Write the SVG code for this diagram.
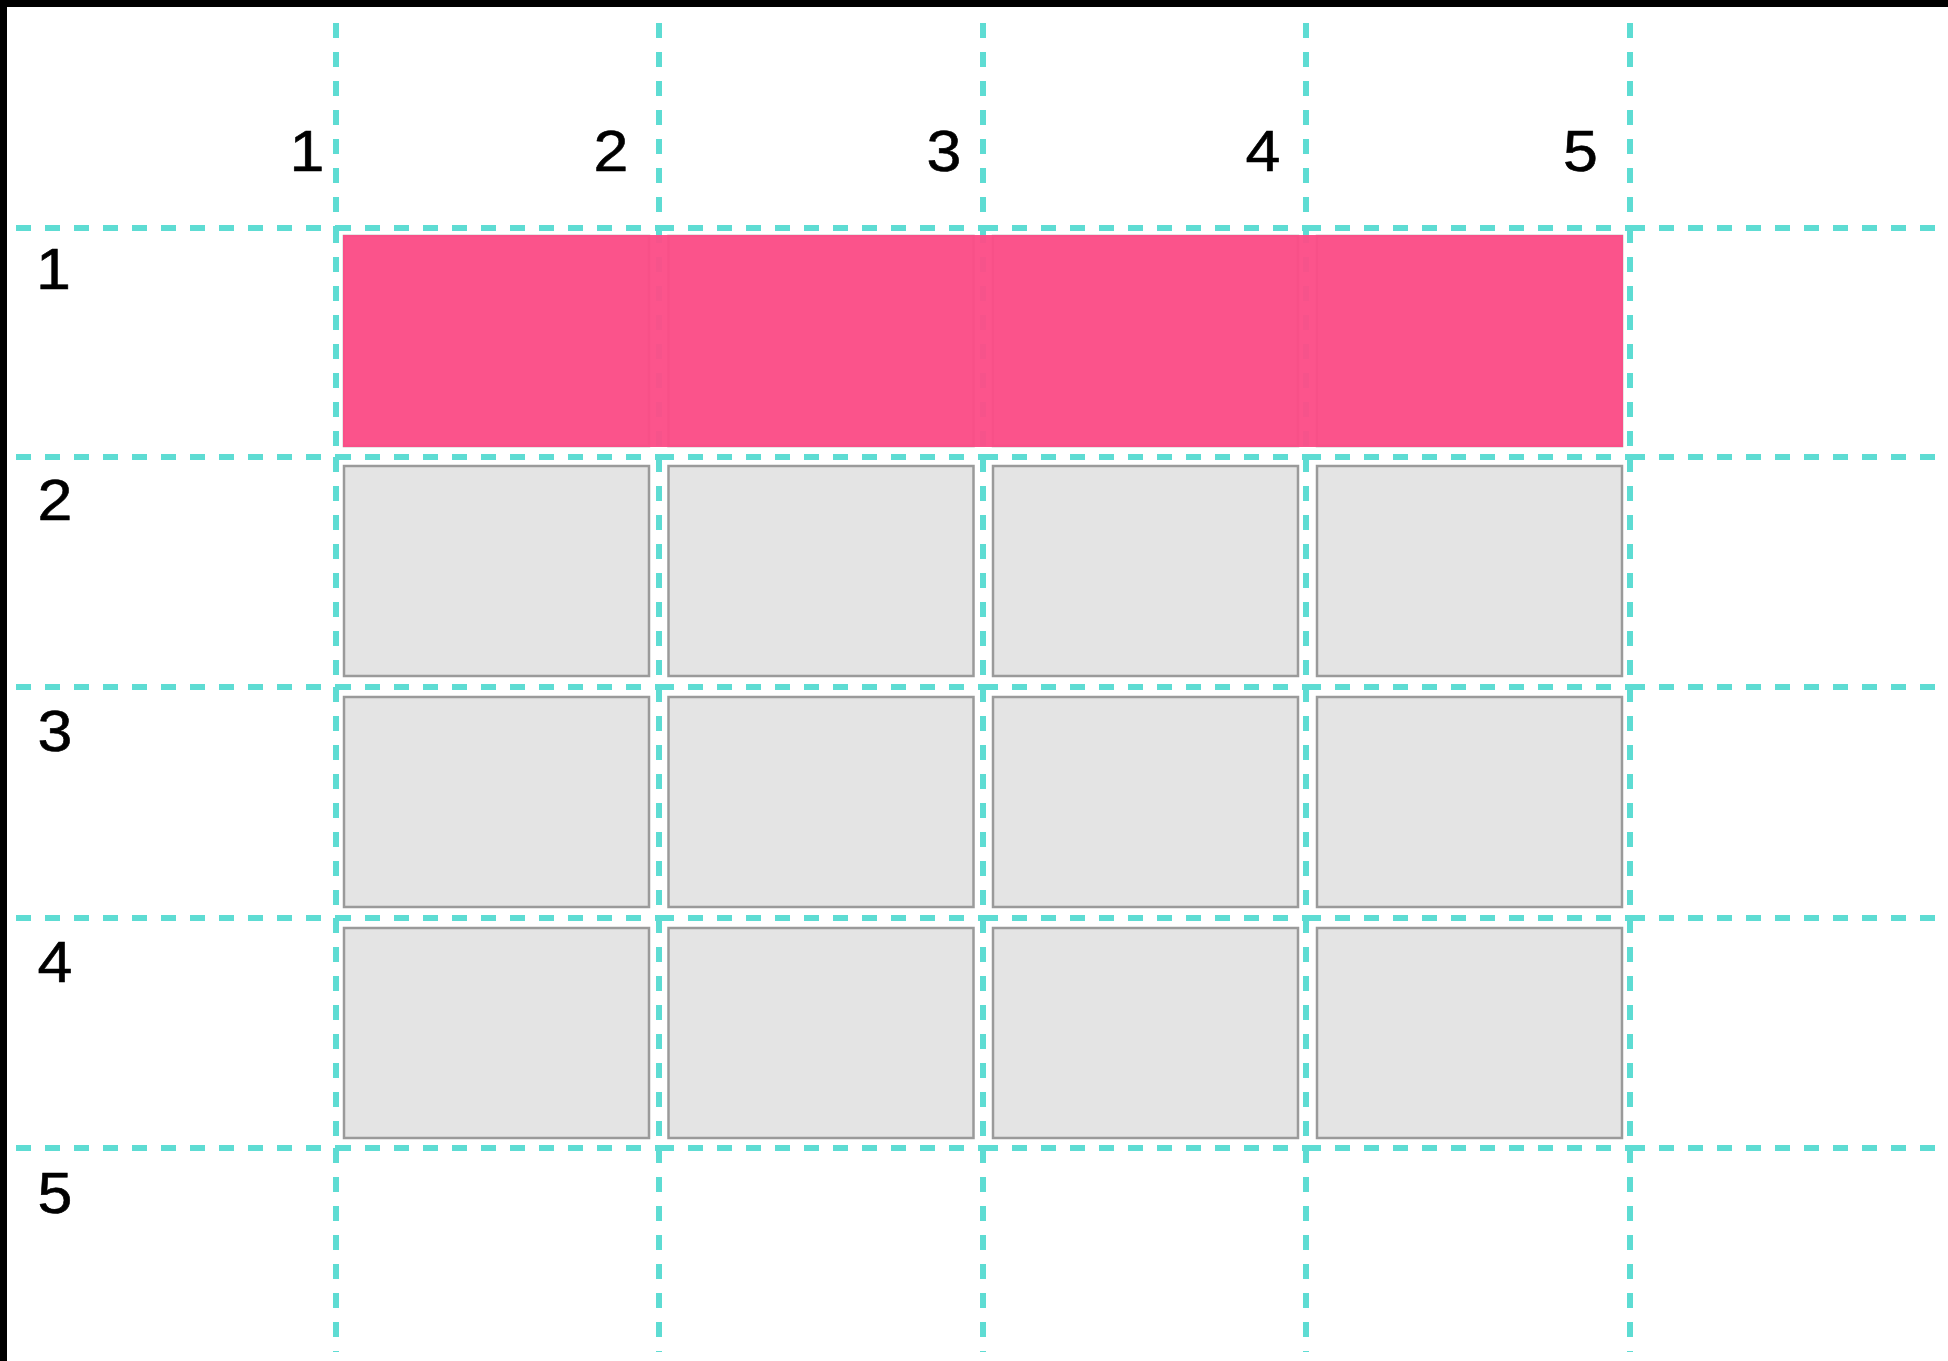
<svg xmlns="http://www.w3.org/2000/svg" width="1948" height="1361" viewBox="0 0 1948 1361">
  <style>
    .grid { fill: none; stroke: #5edcd3; stroke-width: 6; stroke-dasharray: 15 14; }
    .cell { fill: #e4e4e4; stroke: #9a9a9a; stroke-width: 2.5; }
    .hl { fill: #fc4d87; fill-opacity: 0.96; }
    .lbl { font-family: "Liberation Sans", Arial, sans-serif; font-size: 57px; fill: #000; stroke: #000; stroke-width: 0.6; text-anchor: middle; }
  </style>
  <rect x="0" y="0" width="1948" height="1361" fill="#000"/>
  <rect x="7" y="7" width="1941" height="1354" fill="#fff"/>

  <g id="connectors">
    <path class="grid" d="M336 23V228M336 228V457M336 457V687M336 687V918M336 918V1148M336 1148V1352"/>
    <path class="grid" d="M659 23V228M659 228V457M659 457V687M659 687V918M659 918V1148M659 1148V1352"/>
    <path class="grid" d="M983 23V228M983 228V457M983 457V687M983 687V918M983 918V1148M983 1148V1352"/>
    <path class="grid" d="M1306 23V228M1306 228V457M1306 457V687M1306 687V918M1306 918V1148M1306 1148V1352"/>
    <path class="grid" d="M1630 23V228M1630 228V457M1630 457V687M1630 687V918M1630 918V1148M1630 1148V1352"/>
    <path class="grid" d="M16 228H336M336 228H659M659 228H983M983 228H1306M1306 228H1630M1630 228H1940"/>
    <path class="grid" d="M16 457H336M336 457H659M659 457H983M983 457H1306M1306 457H1630M1630 457H1940"/>
    <path class="grid" d="M16 687H336M336 687H659M659 687H983M983 687H1306M1306 687H1630M1630 687H1940"/>
    <path class="grid" d="M16 918H336M336 918H659M659 918H983M983 918H1306M1306 918H1630M1630 918H1940"/>
    <path class="grid" d="M16 1148H336M336 1148H659M659 1148H983M983 1148H1306M1306 1148H1630M1630 1148H1940"/>
  </g>

  <g id="row1">
    <rect class="cell" x="344" y="236" width="305" height="210"/>
    <rect class="cell" x="668.5" y="236" width="305" height="210"/>
    <rect class="cell" x="993" y="236" width="305" height="210"/>
    <rect class="cell" x="1317" y="236" width="305" height="210"/>
  </g>
  <g id="highlight">
    <rect class="hl" x="343" y="235" width="1280" height="212"/>
  </g>
  <g id="row2">
    <rect class="cell" x="344" y="466" width="305" height="210"/>
    <rect class="cell" x="668.5" y="466" width="305" height="210"/>
    <rect class="cell" x="993" y="466" width="305" height="210"/>
    <rect class="cell" x="1317" y="466" width="305" height="210"/>
  </g>
  <g id="row3">
    <rect class="cell" x="344" y="697" width="305" height="210"/>
    <rect class="cell" x="668.5" y="697" width="305" height="210"/>
    <rect class="cell" x="993" y="697" width="305" height="210"/>
    <rect class="cell" x="1317" y="697" width="305" height="210"/>
  </g>
  <g id="row4">
    <rect class="cell" x="344" y="928" width="305" height="210"/>
    <rect class="cell" x="668.5" y="928" width="305" height="210"/>
    <rect class="cell" x="993" y="928" width="305" height="210"/>
    <rect class="cell" x="1317" y="928" width="305" height="210"/>
  </g>

  <g id="column-labels">
    <text class="lbl" transform="translate(307 171) scale(1.1 1)">1</text>
    <text class="lbl" transform="translate(611 171) scale(1.1 1)">2</text>
    <text class="lbl" transform="translate(944 171) scale(1.1 1)">3</text>
    <text class="lbl" transform="translate(1263 171) scale(1.1 1)">4</text>
    <text class="lbl" transform="translate(1580.5 171) scale(1.1 1)">5</text>
  </g>
  <g id="row-labels">
    <text class="lbl" transform="translate(53.5 289) scale(1.1 1)">1</text>
    <text class="lbl" transform="translate(55 520) scale(1.1 1)">2</text>
    <text class="lbl" transform="translate(55 751) scale(1.1 1)">3</text>
    <text class="lbl" transform="translate(55 982) scale(1.1 1)">4</text>
    <text class="lbl" transform="translate(55 1213) scale(1.1 1)">5</text>
  </g>
</svg>
